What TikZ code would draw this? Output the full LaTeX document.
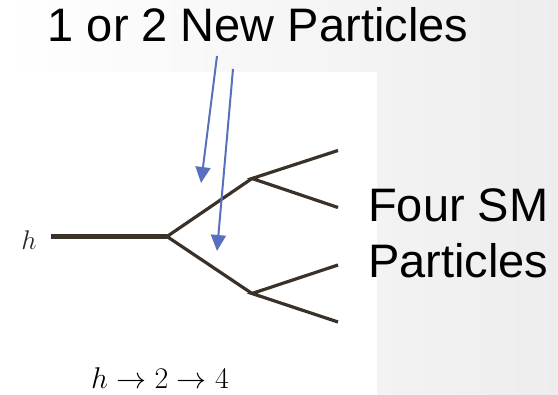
\RequirePackage{fix-cm}
\documentclass[tikz,border=0pt]{standalone}
\usepackage[no-math]{fontspec}
\newfontfamily\slidefont{Liberation Sans}
\usepackage{tikz}
\usetikzlibrary{arrows.meta}
\definecolor{legcol}{RGB}{58,50,40}
\definecolor{ptrcol}{RGB}{89,112,190}

\begin{document}
\begin{tikzpicture}[x=1pt, y=-1pt,
    leg/.style={draw=legcol, line width=3.2pt, line join=miter},
    pointer/.style={draw=ptrcol, line width=2pt, -{Triangle[width=15pt, length=16pt]}},
    slidetext/.style={inner sep=0pt, font=\slidefont\fontsize{47}{56}\selectfont}]
    \useasboundingbox (0,0) rectangle (558,395);
    \shade[left color=white, right color=black!7] (0,0) rectangle (558,395);
    \fill[white] (0,72) rectangle (377,395);

    \coordinate (hin) at (51,236.5);
    \coordinate (v0) at (167,236.5);
    \coordinate (va) at (252,178.5);
    \coordinate (vb) at (252,293.5);
    \coordinate (a1) at (338,150.5);
    \coordinate (a2) at (338,207.5);
    \coordinate (b1) at (338,265);
    \coordinate (b2) at (338,322);

    \draw[leg, line width=4.5pt] (hin) -- (v0);
    \draw[leg] (va) -- (v0) -- (vb);
    \draw[leg] (a1) -- (va) -- (a2);
    \draw[leg] (b1) -- (vb) -- (b2);

    \node[inner sep=0pt, anchor=base, text=black!85, font=\fontsize{27}{30}\selectfont] (hlab) at (29,250) {$h$};
    \node[inner sep=0pt, anchor=base, font=\fontsize{30}{34}\selectfont] (chain) at (160,389) {$h \to 2 \to 4$};

    \node[slidetext, anchor=base] (newlab) at (258,42) {1 or 2 New Particles};
    \node[slidetext, anchor=base west, align=left] (smlab) at (368,278) {Four SM\\Particles};

    \coordinate (p1) at (217,56);
    \coordinate (q1) at (201,183);
    \coordinate (p2) at (233,69);
    \coordinate (q2) at (217,251);
    \draw[pointer] (p1) -- (q1);
    \draw[pointer] (p2) -- (q2);
\end{tikzpicture}
\end{document}
